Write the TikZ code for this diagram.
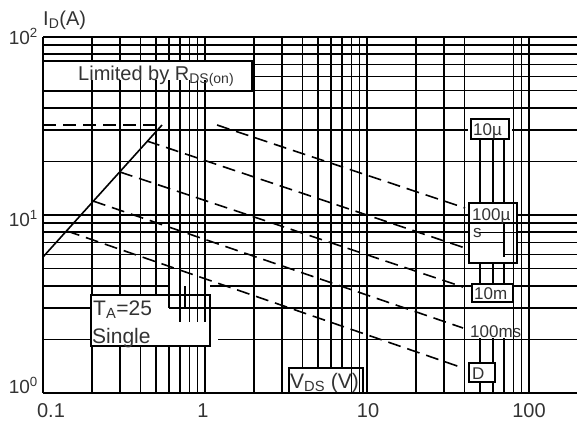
\documentclass[tikz,border=0pt]{standalone}
\usepackage{fontspec}
\setmainfont{Liberation Sans}
\definecolor{txt}{HTML}{333333}
\begin{document}
\begin{tikzpicture}[x=1pt,y=-1pt,
  gridline/.style={line width=1.6pt,black},
  boxline/.style={line width=1.6pt,black},
  whitefill/.style={fill=white,draw=none},
  curve/.style={line width=1.6pt,black},
  dashcurve/.style={line width=1.6pt,black,dash pattern=on 13pt off 7pt},
  lbl/.style={inner sep=0pt,text=txt,font=\fontsize{20}{24}\selectfont},
  biglbl/.style={inner sep=0pt,text=txt,font=\fontsize{21}{25}\selectfont},
  ticklbl/.style={inner sep=0pt,text=txt,font=\fontsize{19}{23}\selectfont},
  smalllbl/.style={inner sep=0pt,text=txt,font=\fontsize{17}{20}\selectfont}]
\useasboundingbox (0,0) rectangle (577,423);
% ---------- vertical grid lines ----------
\foreach \b in {43,205}{
  \foreach \m in {2,...,9}{
    \pgfmathsetmacro\xx{\b+162*log10(\m)}
    \draw[gridline] (\xx,37) -- (\xx,393);
  }
}
\foreach \xx in {205,367,529}{\draw[gridline] (\xx,37) -- (\xx,393);}
\foreach \m in {2,3,4,8,9}{
  \pgfmathsetmacro\xx{367+162*log10(\m)}
  \draw[gridline] (\xx,37) -- (\xx,393);
}
\foreach \m in {5,6,7}{
  \pgfmathsetmacro\xx{367+162*log10(\m)}
  \draw[gridline] (\xx,139) -- (\xx,393);
}
% ---------- horizontal grid lines ----------
\foreach \m in {3,5,6,7,8,9}{
  \pgfmathsetmacro\yy{393-178*log10(\m)}
  \draw[gridline] (43,\yy) -- (577,\yy);
}
\foreach \m in {2,...,9}{
  \pgfmathsetmacro\yy{215-178*log10(\m)}
  \draw[gridline] (43,\yy) -- (577,\yy);
}
\draw[gridline] (43,215) -- (577,215);
\pgfmathsetmacro\ytwo{393-178*log10(2)}
\pgfmathsetmacro\yfour{393-178*log10(4)}
\draw[gridline] (43,\ytwo) -- (210,\ytwo) (218,\ytwo) -- (577,\ytwo);
\draw[gridline] (43,\yfour) -- (169,\yfour) (210,\yfour) -- (577,\yfour);
% ---------- "Limited by" box ----------
\fill[whitefill] (43,61) rectangle (252,91);
\draw[boxline] (43,61) rectangle (252,91);
\foreach \m in {2,...,9}{
  \pgfmathsetmacro\xx{43+162*log10(\m)}
  \draw[gridline] (\xx,80) -- (\xx,91);
}
\draw[gridline] (205,80) -- (205,91);
\node[lbl,anchor=base west] (lim) at (78,80) {Limited by R\textsubscript{DS(on)}};
% ---------- T_A box ----------
\fill[whitefill] (91,295) rectangle (210,346);
\draw[boxline] (91,295) rectangle (210,346);
\draw[gridline] (169,308.1) -- (210,308.1);
\draw[gridline] (169,286) -- (169,308.1);
\draw[gridline] (185,286) -- (185,308.1);
\foreach \m in {7,8,9}{
  \pgfmathsetmacro\xx{43+162*log10(\m)}
  \draw[gridline] (\xx,295) -- (\xx,322);
}
\draw[gridline] (205,295) -- (205,322);
\node[biglbl,anchor=base west] (ta) at (93,315) {T\textsubscript{A}=25};
\node[biglbl,anchor=base west] (single) at (92,343) {Single};
% ---------- V_DS box ----------
\fill[whitefill] (289,368) rectangle (363,393);
\draw[boxline] (289,393) |- (363,368) -- (363,393);
\foreach \m in {8,9}{
  \pgfmathsetmacro\xx{205+162*log10(\m)}
  \draw[gridline] (\xx,368) -- (\xx,393);
}
\node[biglbl,anchor=base west] (vds) at (290,388) {V\textsubscript{DS} (V)};
% ---------- 10u box ----------
\fill[whitefill] (468,119) rectangle (512,139);
\draw[boxline] (471,119) rectangle (509,139);
\node[smalllbl,anchor=base west] (t10u) at (473,135) {10µ};
% ---------- 100u box ----------
\fill[whitefill] (469,203) rectangle (517,263);
\draw[gridline] (469,223.2) -- (517,223.2);
\draw[gridline] (479,232.3) -- (517,232.3);
\draw[gridline] (504,254.5) -- (517,254.5);
\draw[gridline] (504,222) -- (504,257);
\draw[gridline] (513.3,203) -- (513.3,263);
\draw[gridline] (469,242.6) -- (504,242.6);
\draw[boxline] (469,203) rectangle (517,263);
\node[smalllbl,anchor=base west] (t100u) at (472,220) {100µ};
\node[smalllbl,anchor=base west] (t100us) at (473,237) {s};
% ---------- 10m box and 100ms ----------
\fill[whitefill] (466,302) rectangle (512,338.3);
\draw[gridline] (466,308.1) -- (512,308.1);
\fill[whitefill] (472,284) rectangle (513,302);
\draw[boxline] (472,284) rectangle (513,302);
\node[smalllbl,anchor=base west] (t10m) at (474,299) {10m};
\node[smalllbl,anchor=base west] (t100ms) at (470,337) {100ms};
% ---------- D box ----------
\fill[whitefill] (469,363) rectangle (495,382);
\draw[boxline] (469,363) rectangle (495,382);
\node[smalllbl,anchor=base west] (tD) at (472,379) {D};
% ---------- curves ----------
\coordinate (h0) at (43,125);
\coordinate (h1) at (162,125);
\coordinate (s0) at (43,257);
\draw[dashcurve] (h0) -- (h1);
\draw[curve] (s0) -- (h1);
\coordinate (a1) at (217,125);  \coordinate (b1) at (465,208);
\coordinate (a2) at (147,141);  \coordinate (b2) at (465,248);
\coordinate (a3) at (120,172);  \coordinate (b3) at (463,287);
\coordinate (a4) at (93,201);   \coordinate (b4) at (463,328);
\coordinate (a5) at (67,231);   \coordinate (b5) at (463,368);
\foreach \i in {1,...,5}{\draw[dashcurve] (a\i) -- (b\i);}
% ---------- frame ----------
\draw[line width=1.8pt] (43,37) -- (577,37);
\draw[line width=1.8pt] (43,37) -- (43,393);
\draw[line width=2.5pt] (43,393) -- (577,393);
% ---------- axis labels ----------
\node[lbl,anchor=base west] (ylab) at (43,25) {I\textsubscript{D}(A)};
\node[ticklbl,anchor=base east] (y2) at (38,44) {10\textsuperscript{2}};
\node[ticklbl,anchor=base east] (y1) at (38,226) {10\textsuperscript{1}};
\node[ticklbl,anchor=base east] (y0) at (38,393) {10\textsuperscript{0}};
\node[lbl,anchor=base] (x0) at (51,417) {0.1};
\node[lbl,anchor=base] (x1) at (203,417) {1};
\node[lbl,anchor=base] (x2) at (368,417) {10};
\node[lbl,anchor=base] (x3) at (529,417) {100};
\end{tikzpicture}
\end{document}
